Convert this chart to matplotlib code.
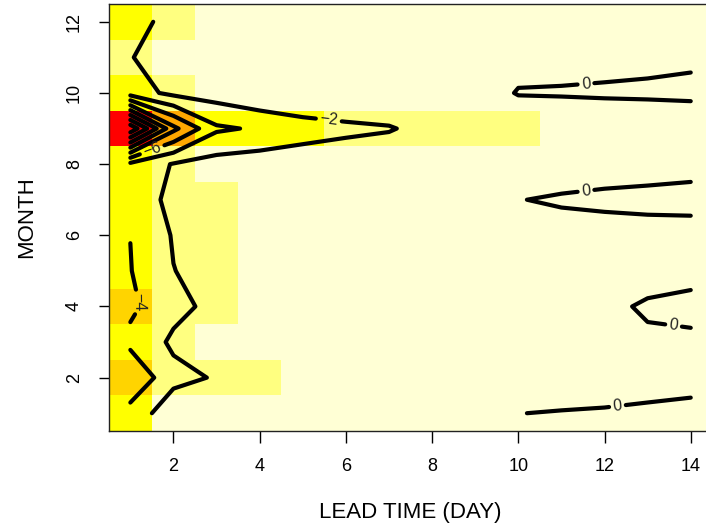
import numpy as np
import matplotlib
matplotlib.use("Agg")
import matplotlib.pyplot as plt
from matplotlib.colors import ListedColormap, BoundaryNorm

plt.rcParams['font.family'] = ['Liberation Sans', 'DejaVu Sans']

lead_days = np.arange(1, 15)
months = np.arange(1, 13)

# one row per month (1..12), one column per lead day (1..14)
skill = np.array([
    [-3.23, -0.77, -0.90, -1.00, -0.80, -0.70, -0.70, -0.60, -0.50, -0.02, 0.08, 0.15, 0.25, 0.35],
    [-5.80, -2.55, -1.84, -1.60, -1.00, -0.90, -0.80, -0.80, -0.70, -0.60, -0.92, -0.79, -0.58, -0.45],
    [-3.49, -1.67, -1.00, -0.90, -0.90, -0.80, -0.80, -0.70, -0.70, -0.60, -0.50, -0.45, -0.29, -0.20],
    [-4.40, -2.55, -1.47, -1.00, -0.90, -0.80, -0.80, -0.70, -0.70, -0.60, -0.50, -0.40, 0.225, 0.30],
    [-4.07, -2.04, -1.30, -0.95, -0.90, -0.80, -0.80, -0.70, -0.70, -0.60, -0.60, -0.60, -0.75, -0.35],
    [-3.98, -1.85, -1.50, -0.90, -0.90, -0.80, -0.80, -0.70, -0.70, -0.60, -0.71, -0.58, -0.48, -0.49],
    [-3.30, -1.44, -1.60, -0.90, -0.90, -0.80, -0.80, -0.70, -0.70, -0.05, 0.20, 0.30, 0.35, 0.40],
    [-3.50, -1.87, -1.20, -0.93, -0.98, -0.86, -0.60, -0.70, -0.80, -0.80, -0.98, -0.67, -0.53, -0.40],
    [-17.5, -8.50, -4.30, -3.75, -2.80, -2.40, -2.15, -1.32, -1.50, -1.40, -0.90, -0.85, -0.90, -0.90],
    [-3.00, -1.50, -1.12, -0.30, -0.30, -0.30, -0.30, -0.60, -0.90, 0.10, 0.10, 0.15, 0.20, 0.27],
    [-2.10, -0.85, -0.70, -0.70, -0.60, -0.60, -0.60, -0.60, -0.60, -0.60, -0.40, -0.35, -0.29, -0.20],
    [-2.70, -1.38, -0.80, -0.80, -0.70, -0.70, -0.70, -0.70, -0.60, -0.60, -0.50, -0.50, -0.50, -0.50],
])

plain_levels = [-16, -14, -12, -10, -8]
labelled_levels = [-6, -4, -2, 0]
color_breaks = [-20, -12, -7, -4.35, -2.6, -1.25, 1]
cell_colors = ["#FF0000", "#FFA800", "#FFD400", "#FFFF00", "#FFFF80", "#FFFFD5"]

# where the contour labels sit (lead day, month)
label_spots = [(5.6, 9.2), (1.15, 4.1), (1.5, 8.42),
               (11.57, 10.25), (11.57, 7.25), (13.6, 3.45), (12.3, 1.2)]

fig = plt.figure(figsize=(7.06, 5.28), dpi=100)
ax = fig.add_axes([0.1541, 0.1837, 0.8548, 0.8087])

cmap = ListedColormap(cell_colors)
norm = BoundaryNorm(color_breaks, cmap.N)
ax.pcolormesh(lead_days, months, skill, cmap=cmap, norm=norm, shading='nearest')

cs_plain = ax.contour(lead_days, months, skill, levels=plain_levels,
                      colors='black', linewidths=3, linestyles='solid')
cs = ax.contour(lead_days, months, skill, levels=labelled_levels,
                colors='black', linewidths=3, linestyles='solid')
for c in (cs_plain, cs):
    c.set_joinstyle('round')
    c.set_capstyle('round')
ax.clabel(cs, manual=label_spots, inline=True,
          inline_spacing=4, fontsize=11.5, colors='#222222',
          fmt=lambda v: f"{v:g}".replace("-", "\u2212"))

ax.set_xlim(0.5, 14.5)
ax.set_ylim(0.5, 12.5)
ax.set_xticks(range(2, 15, 2))
ax.set_yticks(range(2, 13, 2))
ax.tick_params(axis='x', length=8.5, width=1, pad=11, labelsize=13)
ax.tick_params(axis='y', length=7.5, width=1, pad=11, labelsize=13, labelrotation=90)
for lab in ax.get_yticklabels():
    lab.set_va('center')

for side in ['left', 'bottom', 'top']:
    ax.spines[side].set_linewidth(1)
    ax.spines[side].set_color('#222222')

ax.set_xlabel("LEAD TIME (DAY)", fontsize=16)
ax.set_ylabel("MONTH", fontsize=16)
ax.xaxis.set_label_coords(0.5, -0.166)
ax.yaxis.set_label_coords(-0.118, 0.5)

fig.savefig("out.png", dpi=100)
